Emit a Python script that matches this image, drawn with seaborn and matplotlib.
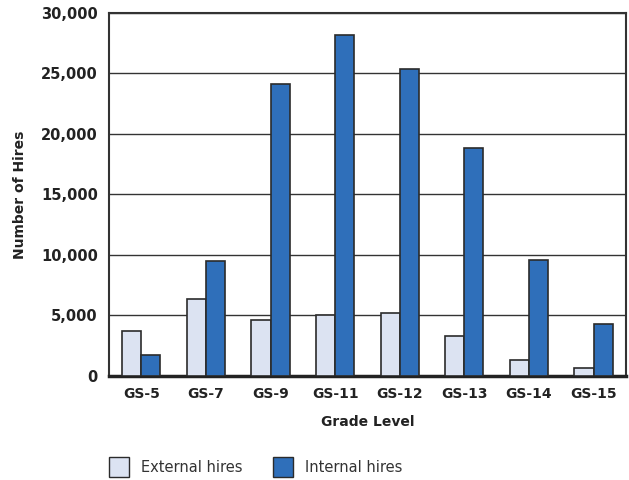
import matplotlib
matplotlib.use("Agg")
import matplotlib.pyplot as plt
from matplotlib.patches import Patch
import seaborn as sns
import pandas as pd

grades = ["GS-5", "GS-7", "GS-9", "GS-11", "GS-12", "GS-13", "GS-14", "GS-15"]
external_hires = [3700, 6400, 4600, 5000, 5200, 3300, 1300, 700]
internal_hires = [1700, 9500, 24100, 28200, 25400, 18800, 9600, 4300]
series_names = ["External hires", "Internal hires"]
y_ticks = [0, 5000, 10000, 15000, 20000, 25000, 30000]

light = "#dce3f2"
dark = "#2f6fba"
edge = "#2b2b2b"

df = pd.DataFrame({
    "Grade": grades * 2,
    "Hires": external_hires + internal_hires,
    "Series": [series_names[0]] * len(grades) + [series_names[1]] * len(grades),
})

sns.set_style("white")
plt.rcParams["font.family"] = ["DejaVu Sans"]

fig = plt.figure(figsize=(6.29, 4.80), dpi=100)
ax = fig.add_axes([0.1733, 0.2167, 0.8217, 0.7563])

sns.barplot(data=df, x="Grade", y="Hires", hue="Series", order=grades,
            hue_order=series_names, palette=[light, dark], width=0.59,
            edgecolor=edge, linewidth=1.2, saturation=1, legend=False,
            errorbar=None, ax=ax, zorder=3)

ax.set_ylim(0, 30000)
ax.set_xlim(-0.5, len(grades) - 0.5)
ax.set_yticks(y_ticks)
ax.set_yticklabels([f"{v:,}" for v in y_ticks], fontsize=10.5, fontweight="bold",
                   color="#222222")
ax.set_xticks(range(len(grades)))
ax.set_xticklabels(grades, fontsize=10, fontweight="bold", color="#222222")
ax.tick_params(axis="both", length=0, pad=8)
ax.yaxis.grid(True, color="#333333", linewidth=1.0, zorder=0)
ax.set_axisbelow(True)

for side in ["left", "right", "top"]:
    ax.spines[side].set_color("#333333")
    ax.spines[side].set_linewidth(1.5)
ax.spines["bottom"].set_color("#222222")
ax.spines["bottom"].set_linewidth(2.5)

ax.set_xlabel("Grade Level", fontsize=10, fontweight="bold", color="#222222",
              labelpad=10)
ax.set_ylabel("Number of Hires", fontsize=10, fontweight="bold", color="#222222",
              labelpad=10)

handles = [Patch(facecolor=light, edgecolor=edge, linewidth=1.0),
           Patch(facecolor=dark, edgecolor=edge, linewidth=1.0)]
fig.legend(handles, series_names, loc="lower left", bbox_to_anchor=(0.152, -0.022),
           ncol=2, frameon=False, fontsize=10.5, handlelength=1.4,
           handleheight=1.8, handletextpad=0.8, columnspacing=2.1,
           labelcolor="#333333")

fig.savefig("out.png", dpi=100)
